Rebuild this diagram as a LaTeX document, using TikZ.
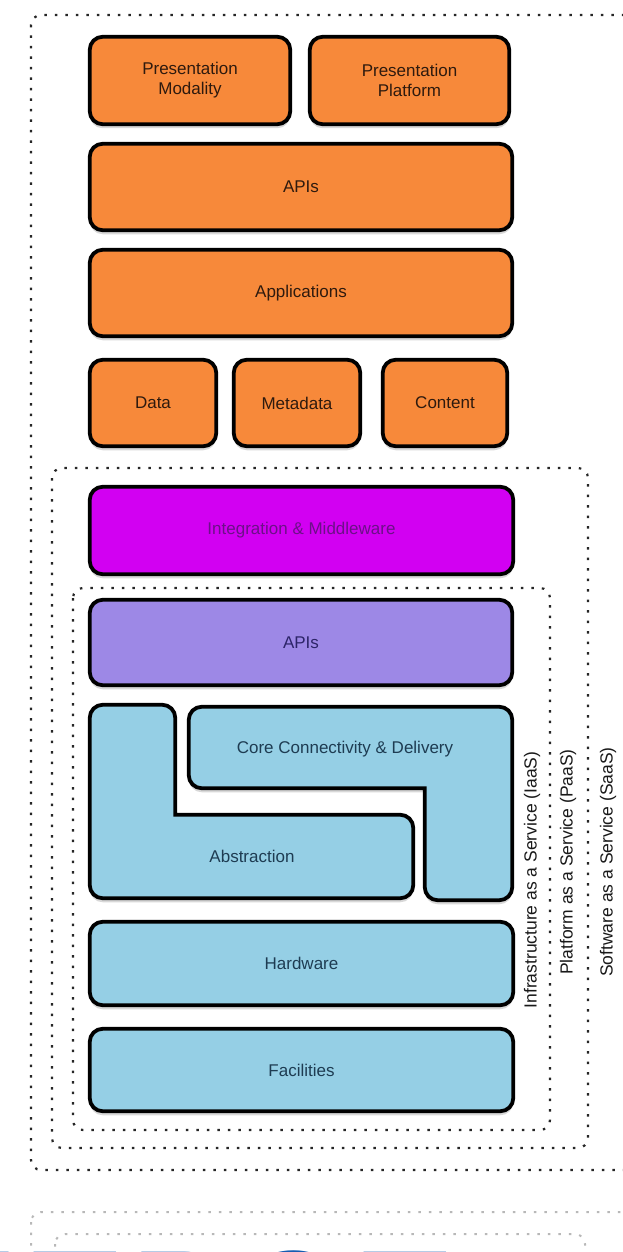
\documentclass[tikz,border=0pt]{standalone}
\usepackage{fontspec}
\setmainfont{Liberation Sans}
\usetikzlibrary{shadows}
\definecolor{orng}{HTML}{F7893A}
\definecolor{magn}{HTML}{D200F2}
\definecolor{purp}{HTML}{9D88E6}
\definecolor{lblue}{HTML}{95CFE5}
\definecolor{otxt}{HTML}{2E1A0E}
\definecolor{mtxt}{HTML}{6C1088}
\definecolor{ptxt}{HTML}{2C2468}
\definecolor{btxt}{HTML}{1E3C52}
\definecolor{bigblue}{HTML}{165CB2}
\tikzset{
  blk/.style={draw=black, line width=3.8pt, rounded corners=13pt,
    drop shadow={shadow xshift=0pt, shadow yshift=-4pt, opacity=0.3}},
  bx/.style={blk, inner sep=0pt, align=center,
    font=\fontsize{17}{20}\selectfont},
  txt/.style={inner sep=0pt, align=center, font=\fontsize{17}{20}\selectfont},
  frame/.style={draw=black!85, line width=2.2pt, dash pattern=on 2.5pt off 8pt,
    rounded corners=10pt},
  faint/.style={draw=black!28, line width=2pt, dash pattern=on 2.5pt off 8pt,
    rounded corners=10pt},
  vlab/.style={inner sep=0pt, rotate=90, font=\fontsize{17.5}{20}\selectfont, text=black!90},
}
\begin{document}
\begin{tikzpicture}[x=1pt,y=-1pt]
\useasboundingbox (0,0) rectangle (623,1252);
\fill[white] (0,0) rectangle (623,1252);

% dotted frames
\draw[frame] (31,15) rectangle (670,1170);
\draw[frame] (52,468) rectangle (588,1148);
\draw[frame] (73,588) rectangle (550,1130);
\draw[faint] (31,1212) rectangle (670,1420);
\draw[faint] (55,1234) rectangle (585,1420);

% orange layer
\node[bx, fill=orng, text=otxt, minimum width=200.5pt, minimum height=87.5pt] (pm) at (190,80.5) {Presentation\\Modality};
\node[bx, fill=orng, text=otxt, minimum width=199.5pt, minimum height=87.5pt] (pp) at (409.5,80.5) {Presentation\\Platform};
\node[bx, fill=orng, text=otxt, minimum width=422.5pt, minimum height=86.5pt] (api1) at (301,187) {APIs};
\node[bx, fill=orng, text=otxt, minimum width=422.5pt, minimum height=86.5pt] (app) at (301,293) {Applications};
\node[bx, fill=orng, text=otxt, minimum width=126.5pt, minimum height=86.5pt] (data) at (153,403) {Data};
\node[bx, fill=orng, text=otxt, minimum width=126.5pt, minimum height=86.5pt] (meta) at (297,403) {Metadata};
\node[bx, fill=orng, text=otxt, minimum width=124.5pt, minimum height=86.5pt] (cont) at (445,403) {Content};

% integration
\node[bx, fill=magn, text=mtxt, minimum width=423.5pt, minimum height=87.5pt] (integ) at (301.5,530.5) {Integration \& Middleware};
% purple APIs
\node[bx, fill=purp, text=ptxt, minimum width=422.5pt, minimum height=85.5pt] (api2) at (301,642.5) {APIs};

% L shapes
\path[blk, fill=lblue] (89.75,704.75) -- (175.25,704.75) [sharp corners] -- (175.25,814.75) [rounded corners=13pt] -- (413.25,814.75) -- (413.25,898.25) -- (89.75,898.25) -- cycle;
\path[blk, fill=lblue] (188.75,706.75) -- (512.25,706.75) -- (512.25,900.25) -- (424.75,900.25) [sharp corners] -- (424.75,788.25) [rounded corners=13pt] -- (188.75,788.25) -- cycle;
\node[txt, text=btxt] (core) at (345,749) {Core Connectivity \& Delivery};
\node[txt, text=btxt] (abst) at (252,856) {Abstraction};

% blue layers
\node[bx, fill=lblue, text=btxt, minimum width=423.5pt, minimum height=83.5pt] (hw) at (301.5,963.5) {Hardware};
\node[bx, fill=lblue, text=btxt, minimum width=423.5pt, minimum height=82.5pt] (fac) at (301.5,1070) {Facilities};

% vertical labels
\node[vlab] (iaas) at (532,880) {Infrastructure as a Service (IaaS)};
\node[vlab] (paas) at (568,862) {Platform as a Service (PaaS)};
\node[vlab] (saas) at (608,862) {Software as a Service (SaaS)};

% cut-off big text
\node[anchor=base west, inner sep=0pt, text=bigblue,
  font=\fontsize{140}{140}\bfseries\addfontfeature{LetterSpace=10}] (big) at (-20.5,1348) {ITPOT};
\end{tikzpicture}
\end{document}
